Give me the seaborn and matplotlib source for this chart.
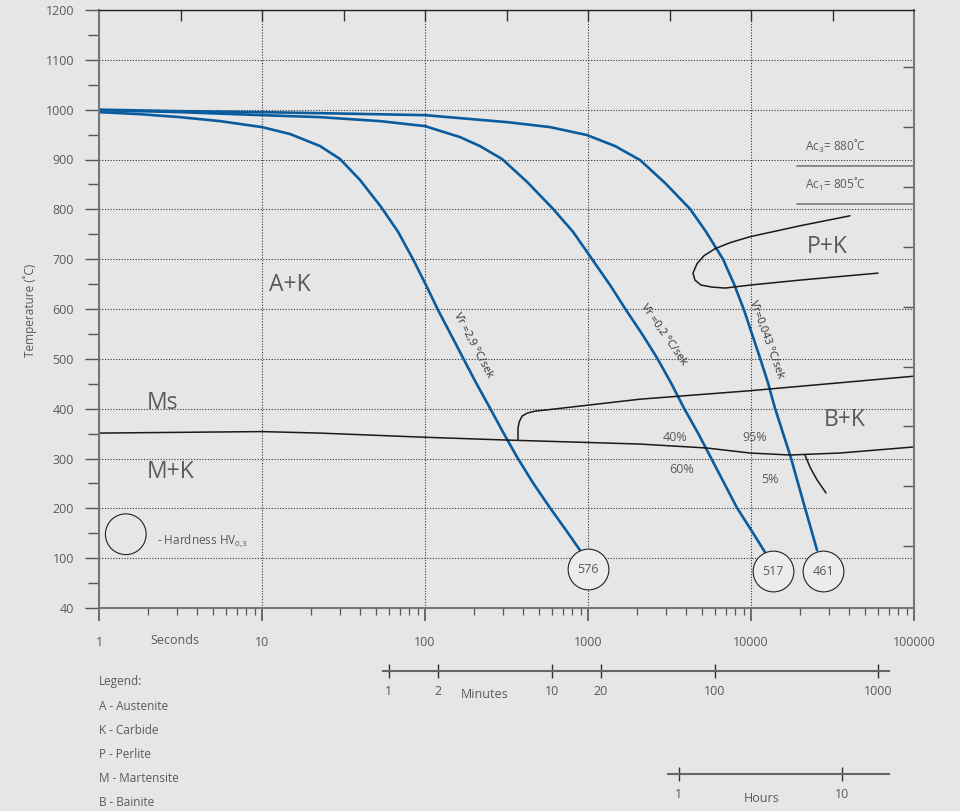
import numpy as np
import pandas as pd
import seaborn as sns
import matplotlib.pyplot as plt
from matplotlib.ticker import LogLocator, NullFormatter

# cooling curves: time (s) vs temperature (deg C)
t_fast = [1, 1.785, 3.14, 5.53, 10, 14.9, 22.7, 30.1, 39.9, 53.7, 68.3, 84.4, 101.4, 120.2, 144.5,
          171, 205.6, 250.6, 301, 366.8, 460, 584.6, 722.8, 893]
T_fast = [995, 991, 985, 977, 965, 951, 927, 901, 859, 805, 755, 700, 648, 598, 548,
          502, 452, 401, 353, 303, 251, 201, 159, 116]

t_mid = [1, 3.14, 10, 22.7, 53, 100, 164, 217, 297, 423, 610, 809, 1059, 1366, 1711, 2145,
         2650, 3228, 3880, 4730, 5690, 6830, 8205, 10000, 12190]
T_mid = [999, 995, 989, 985, 977, 967, 945, 927, 901, 855, 801, 755, 700, 648, 598, 550,
         502, 452, 401, 351, 301, 251, 201, 157, 112]

t_slow = [1, 3.14, 10, 22.7, 100, 318, 585, 986, 1465, 2084, 2967, 4224, 5297, 6733, 7870, 9060,
          10140, 11350, 12710, 14030, 15710, 17590, 19410, 21440, 23330, 25420]
T_slow = [1000, 997, 995, 993, 989, 975, 965, 949, 927, 899, 853, 801, 755, 700, 650, 598,
          550, 502, 452, 401, 351, 301, 251, 201, 159, 116]

# transformation lines
t_ms = [1, 10, 22.7, 93, 318, 2084, 5370, 9860, 17340, 35150, 98600]
T_ms = [351, 354, 351, 343, 337, 329, 321, 311, 307, 311, 323]

t_bs = [372, 372, 378, 394, 423, 473, 610, 2084, 9860, 35150, 98600]
T_bs = [337, 361, 373, 385, 391, 395, 399, 419, 436, 452, 465]

t_bf = [21440, 23000, 25420, 28840]
T_bf = [307, 283, 257, 231]

t_pk = [40480, 19990, 9860, 7430, 6013, 5152, 4667, 4406, 4531, 4932, 5768, 6925, 9860, 19990, 60150]
T_pk = [787, 767, 745, 733, 721, 707, 691, 672, 658, 648, 644, 642, 648, 658, 672]

ac_labels = ['Ac$_\\mathrm{3}$= 880˚C', 'Ac$_\\mathrm{1}$= 805˚C']
ac_T = [887, 811]
ac_t = [19150, 100000]

hardness = ['576', '517', '461']
hard_t = [1000, 13650, 27660]
hard_T = [78, 74, 74]

speed_labels = ['V̄r =2,9 °C/sek', 'V̄r =0,2 °C/sek', 'V̄r=0,043 °C/sek']
speed_t = [196, 2900, 12400]
speed_T = [528, 548, 538]
speed_rot = [-62, -55, -70]

region_labels = ['A+K', 'P+K', 'B+K', 'Ms', 'M+K']
region_t = [14.9, 29260, 37740, 1.97, 1.97]
region_T = [648, 725, 377, 411, 273]

pct_labels = ['40%', '95%', '60%', '5%']
pct_t = [3420, 10590, 3776, 13090]
pct_T = [343, 343, 277, 257]

y_ticks = [0, 100, 200, 300, 400, 500, 600, 700, 800, 900, 1000, 1100, 1200]
y_labels = ['40', '100', '200', '300', '400', '500', '600', '700', '800', '900', '1000', '1100', '1200']
x_ticks = [1, 10, 100, 1000, 10000, 100000]
x_labels = ['1', '10', '100', '1000', '10000', '100000']
minute_ticks = [1, 2, 10, 20, 100, 1000]
hour_ticks = [1, 10]
legend_lines = ['Legend:', 'A - Austenite', 'K - Carbide', 'P - Perlite', 'M - Martensite', 'B - Bainite']

bg = '#e6e6e6'
txt = '#5a5a5a'
blue = '#0a5c9e'

sns.set_theme(style='white', rc={'figure.facecolor': bg, 'axes.facecolor': bg})
plt.rcParams['font.family'] = ['Open Sans', 'DejaVu Sans']
plt.rcParams['mathtext.fontset'] = 'custom'
plt.rcParams['mathtext.rm'] = 'Open Sans'

fig = plt.figure(figsize=(9.6, 8.11), dpi=100)
ax = fig.add_axes([99 / 960, 203 / 811, 815 / 960, 598 / 811])

for t, T in [(t_fast, T_fast), (t_mid, T_mid), (t_slow, T_slow)]:
    sns.lineplot(x=t, y=T, ax=ax, color=blue, lw=1.9, sort=False, estimator=None)

for t, T in [(t_ms, T_ms), (t_bs, T_bs), (t_bf, T_bf), (t_pk, T_pk)]:
    sns.lineplot(x=t, y=T, ax=ax, color='#1a1a1a', lw=1.1, sort=False, estimator=None)

for T, lab in zip(ac_T, ac_labels):
    ax.plot(ac_t, [T, T], color='#8a8a8a', lw=1.4)
    ax.text(21500, T + 22, lab, fontsize=8.5, color=txt, va='bottom', ha='left')

ax.scatter(hard_t, hard_T, s=860, facecolor='#ececec', edgecolor='#222222', lw=0.8, zorder=5)
for t, T, lab in zip(hard_t, hard_T, hardness):
    ax.text(t, T, lab, fontsize=9, color=txt, ha='center', va='center', zorder=6)

# hardness key
ax.scatter([1.46], [148], s=860, facecolor='none', edgecolor='#222222', lw=0.8, clip_on=False)
ax.text(2.27, 136, '- Hardness HV$_\\mathrm{0{,}3}$', fontsize=8.5, color=txt, va='center')

for t, T, lab, r in zip(speed_t, speed_T, speed_labels, speed_rot):
    ax.text(t, T, lab, fontsize=8, color='#333333', rotation=r, rotation_mode='anchor',
            ha='center', va='center')

for t, T, lab in zip(region_t, region_T, region_labels):
    ha = 'left' if lab in ('Ms', 'M+K') else 'center'
    ax.text(t, T, lab, fontsize=16.5, color=txt, ha=ha, va='center')

for t, T, lab in zip(pct_t, pct_T, pct_labels):
    ax.text(t, T, lab, fontsize=9, color=txt, ha='center', va='center')

ax.set_xscale('log')
ax.set_xlim(1, 100000)
ax.set_ylim(0, 1200)
ax.set_xticks(x_ticks, x_labels)
ax.xaxis.set_minor_locator(LogLocator(base=10, subs=np.arange(2, 10)))
ax.xaxis.set_minor_formatter(NullFormatter())
ax.set_yticks(y_ticks, y_labels)
ax.set_yticks(np.arange(50, 1200, 100), minor=True)

ax.grid(axis='y', which='major', linestyle=(0, (1, 1.5)), color='#333333', lw=0.8)
ax.grid(axis='x', which='major', linestyle=(0, (1, 1.5)), color='#333333', lw=0.8)

ax.tick_params(axis='y', which='major', direction='out', length=10, width=1, color='#555555',
               labelsize=9, labelcolor=txt, pad=8, left=True)
ax.tick_params(axis='y', which='minor', direction='out', length=8, width=1, color='#555555', left=True)
ax.tick_params(axis='x', which='major', direction='out', length=9, width=1.2, color='#555555',
               labelsize=9, labelcolor=txt, pad=11, bottom=True)
ax.tick_params(axis='x', which='minor', direction='out', length=5, width=0.9, color='#555555', bottom=True)

for side in ['left', 'bottom', 'right']:
    ax.spines[side].set_color('#777777')
    ax.spines[side].set_linewidth(1.5)
ax.spines['top'].set_color('#222222')
ax.spines['top'].set_linewidth(1)

top = ax.secondary_xaxis('top')
top.set_xticks([10 ** (k / 2) for k in range(1, 10)], [])
top.xaxis.set_minor_locator(plt.NullLocator())
top.tick_params(direction='in', length=8, width=1, color='#333333', top=True)
top.spines['top'].set_visible(False)

right = ax.secondary_yaxis('right')
right.set_yticks([124, 245, 365, 484, 604, 725, 845, 965, 1086], [])
right.tick_params(direction='in', length=8, width=1, color='#555555', right=True)
right.spines['right'].set_visible(False)

# minutes and hours scales
def extra_scale(ypix, factor, lo, hi, ticks):
    a = fig.add_axes([99 / 960, 1 - ypix / 811, 815 / 960, 0.0001])
    a.set_facecolor('none')
    a.set_xscale('log')
    a.set_xlim(1 / factor, 100000 / factor)
    for s in ['top', 'left', 'right']:
        a.spines[s].set_visible(False)
    a.spines['bottom'].set_bounds(lo / factor, hi / factor)
    a.spines['bottom'].set_color('#666666')
    a.spines['bottom'].set_linewidth(1.5)
    a.set_yticks([])
    a.set_xticks(ticks, [str(v) for v in ticks])
    a.xaxis.set_minor_locator(plt.NullLocator())
    a.tick_params(axis='x', direction='inout', length=10, width=1, color='#333333',
                  labelsize=9, labelcolor=txt, pad=5, bottom=True)
    return a

extra_scale(671, 60, 55.3, 70300, minute_ticks)
extra_scale(774, 3600, 3097, 70300, hour_ticks)

fig.text(175 / 960, 1 - 641 / 811, 'Seconds', fontsize=9, color=txt, ha='center', va='center')
fig.text(485 / 960, 1 - 695 / 811, 'Minutes', fontsize=9, color=txt, ha='center', va='center')
fig.text(762 / 960, 1 - 798 / 811, 'Hours', fontsize=9, color=txt, ha='center', va='center')
fig.text(30 / 960, 1 - 310 / 811, 'Temperature (˚C)', fontsize=8.5, color=txt, rotation=90,
         ha='center', va='center')

for i, line in enumerate(legend_lines):
    fig.text(99 / 960, 1 - (682 + 24 * i) / 811, line, fontsize=8.5, color=txt, ha='left', va='center')

fig.savefig('out.png', dpi=100, facecolor=bg)
